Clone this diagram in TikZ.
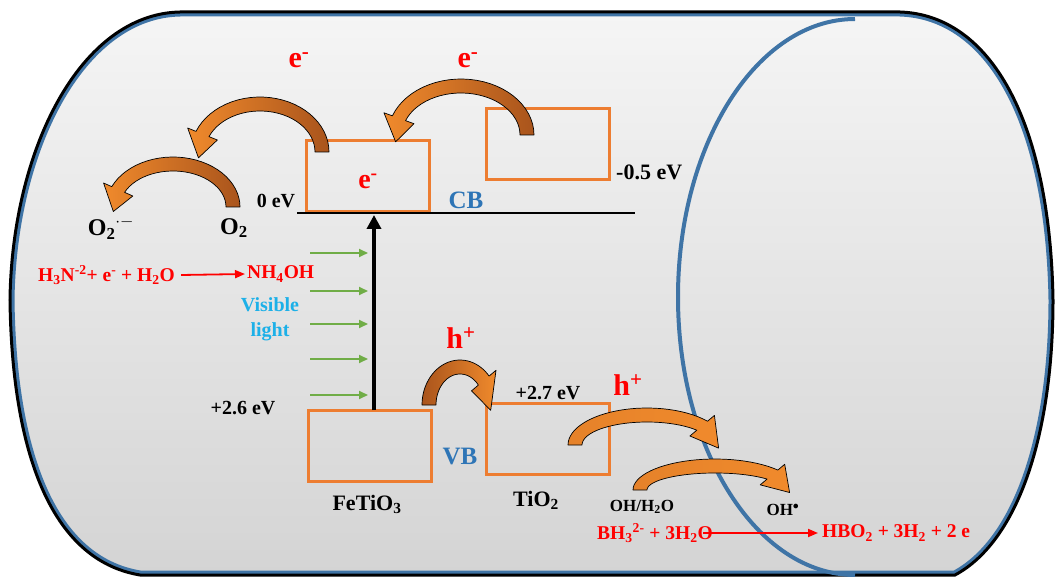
\documentclass[tikz,border=0pt]{standalone}
\usepackage{fontspec}
\setmainfont{Liberation Serif}
\usetikzlibrary{arrows.meta}
\definecolor{boxor}{HTML}{ED7D31}
\definecolor{bandblue}{HTML}{2E75B6}
\definecolor{vislight}{HTML}{1CB0E8}
\definecolor{lgreen}{HTML}{70AD47}
\definecolor{edgeblue}{HTML}{3F74A6}
\definecolor{orL}{HTML}{F08A2C}
\definecolor{orD}{HTML}{A9541C}
\definecolor{bgtop}{HTML}{F5F5F5}
\definecolor{bgbot}{HTML}{D4D4D4}
\newcommand{\fs}[1]{\fontsize{#1}{#1}\selectfont}
\newcommand{\borderpath}{(180,12) -- (900,12) .. controls (990,15) and (1050,120) .. (1053,300) .. controls (1053,430) and (1020,540) .. (955,575) -- (140,575) .. controls (50,560) and (12,450) .. (10,300) .. controls (12,150) and (80,14) .. (180,12) -- cycle}
% cx cy rx ry tail-angle headbase-angle tip-angle fillopts
\newcommand{\bandarrow}[8]{%
  \path[#8, draw=black, line width=0.7pt, line join=round]
    plot[domain=#5:#6, samples=30] ({#1+(#3+7)*cos(\x)},{#2+(#4+7)*sin(\x)})
    -- ({#1+(#3+16)*cos(#6)},{#2+(#4+16)*sin(#6)})
    -- ({#1+#3*cos(#7)},{#2+#4*sin(#7)})
    -- ({#1+(#3-16)*cos(#6)},{#2+(#4-16)*sin(#6)})
    -- plot[domain=#6:#5, samples=30] ({#1+(#3-7)*cos(\x)},{#2+(#4-7)*sin(\x)})
    -- cycle;}
\tikzset{
  bandbox/.style={draw=boxor, line width=3pt, minimum width=123pt, minimum height=71pt, inner sep=0pt},
  lbl/.style={font=\fs{20}\bfseries, inner sep=0pt},
  biglbl/.style={font=\fs{24}\bfseries, inner sep=0pt},
  carrier/.style={font=\fs{30}\bfseries, text=red, inner sep=0pt},
  bandlbl/.style={font=\fs{25}\bfseries, text=bandblue, inner sep=0pt},
  redtxt/.style={font=\fs{19.5}\bfseries, text=red, inner sep=0pt},
  vistxt/.style={font=\fs{20}\bfseries, text=vislight, inner sep=0pt},
  redarrow/.style={draw=red, line width=1.8pt, -{Triangle[length=10pt,width=8pt]}},
  greenarrow/.style={draw=lgreen, line width=2pt, -{Triangle[length=9pt,width=8pt]}},
  leftarr/.style={left color=orL, right color=orD},
  rightarr/.style={left color=orD, right color=orL},
  plainarr/.style={left color=orL!85!orD, right color=orL},
}
\begin{document}
\begin{tikzpicture}[x=1pt, y=-1pt]
\useasboundingbox (0,0) rectangle (1055,577);
% body of the cylinder
\shade[top color=bgtop, bottom color=bgbot] \borderpath;
\begin{scope}
  \clip \borderpath;
  \draw[edgeblue, line width=9pt] \borderpath;
\end{scope}
\draw[black, line width=3pt] \borderpath;
% end cap ellipse
\draw[edgeblue, line width=4pt] (855,19) arc[start angle=-90, end angle=-270, x radius=177, y radius=278];

% band boxes
\node[bandbox] (fecb) at (368,176) {};
\node[bandbox] (fevb) at (370,446) {};
\node[bandbox] (ticb) at (548,144) {};
\node[bandbox] (tivb) at (548,439) {};
\node[carrier, font=\fs{28}\bfseries] (einbox) at (368,181) {e\textsuperscript{-}};

% CB line
\coordinate (cbL) at (297,213);
\coordinate (cbR) at (635,213);
\draw[black, line width=2pt] (cbL) -- (cbR);

% excitation arrow
\coordinate (va1) at (374,410);
\coordinate (va2) at (374,215);
\draw[black, line width=4pt, -{Triangle[length=14pt,width=14pt]}] (va1) -- (va2);

% visible light arrows
\foreach \yy in {253,291,324,359,395}{
  \coordinate (ga\yy) at (310,\yy);
  \coordinate (gb\yy) at (368,\yy);
  \draw[greenarrow] (ga\yy) -- (gb\yy);
}

% labels
\node[lbl] (zero) at (276,201) {0 eV};
\node[lbl, font=\fs{22}\bfseries, anchor=west] (m05) at (616,172) {-0.5 eV};
\node[lbl] (p26) at (243,408) {+2.6 eV};
\node[lbl] (p27) at (548,393) {+2.7 eV};
\node[bandlbl] (cb) at (466,200) {CB};
\node[bandlbl] (vb) at (460,457) {VB};
\node[lbl, font=\fs{22}\bfseries] (fet) at (367,504) {FeTiO\textsubscript{3}};
\node[lbl, font=\fs{22}\bfseries] (tio) at (536,500) {TiO\textsubscript{2}};
\node[biglbl] (o2r) at (111,228) {O\textsubscript{2}\textsuperscript{$\cdot -$}};
\node[biglbl] (o2) at (234,228) {O\textsubscript{2}};
\node[carrier] (e1) at (299,60) {e\textsuperscript{-}};
\node[carrier] (e2) at (468,60) {e\textsuperscript{-}};
\node[carrier] (h1) at (461,338) {h\textsuperscript{+}};
\node[carrier] (h2) at (628,385) {h\textsuperscript{+}};
\node[lbl, font=\fs{17}\bfseries] (ohh) at (642,507) {OH/H\textsubscript{2}O};
\node[lbl, font=\fs{17}\bfseries] (ohr) at (783,510) {OH\textsuperscript{$\bullet$}};
\node[vistxt] (vis1) at (270,305) {Visible};
\node[vistxt] (vis2) at (270,332) {light};

% reactions
\node[redtxt, anchor=west] (h3n) at (38,275) {H\textsubscript{3}N\textsuperscript{-2}+ e\textsuperscript{-} + H\textsubscript{2}O};
\node[redtxt, anchor=west] (nh4) at (247,274) {NH\textsubscript{4}OH};
\draw[redarrow] ([xshift=6pt]h3n.east) -- ([xshift=-2pt]nh4.west);
\node[redtxt, anchor=west] (bh3) at (597,533) {BH\textsubscript{3}\textsuperscript{2-} + 3H\textsubscript{2}O};
\node[redtxt, anchor=west] (hbo) at (822,533) {HBO\textsubscript{2} + 3H\textsubscript{2} + 2 e};
\draw[redarrow] ([xshift=-10pt]bh3.east) -- ([xshift=-4pt]hbo.west);

% curved transfer arrows
\bandarrow{461}{135}{66}{49}{0}{-160}{-188}{leftarr}
\bandarrow{260}{152}{62}{48}{0}{-158}{-187}{leftarr}
\bandarrow{173}{207}{60}{43}{0}{-156}{-186}{leftarr}
\bandarrow{460}{405}{31}{38}{180}{320}{368}{rightarr}
\bandarrow{647}{445}{72}{30}{180}{320}{366}{plainarr}
\bandarrow{715}{490}{75}{24}{180}{320}{366}{plainarr}
\end{tikzpicture}
\end{document}
